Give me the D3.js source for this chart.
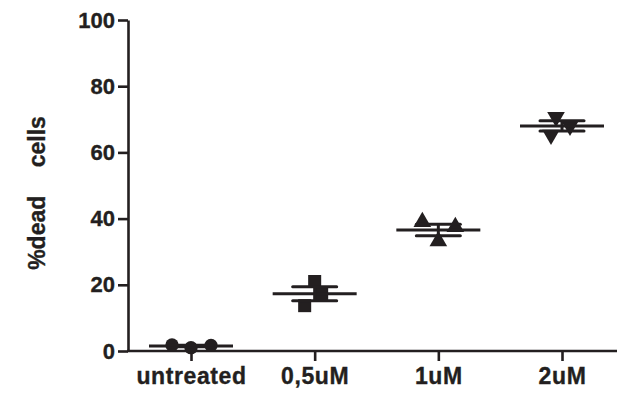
<!DOCTYPE html>
<html>
<head>
<meta charset="utf-8">
<script src="https://cdn.jsdelivr.net/npm/d3@7"></script>
<style>
  body { margin: 0; background: #fff; }
  text { font-family: "Liberation Sans", Arial, sans-serif; font-weight: bold; fill: #231f20; stroke: #231f20; stroke-width: 0.35px; }
</style>
</head>
<body>
<svg id="chart" width="621" height="398"></svg>
<script>
// data
const groups = ['untreated', '0,5uM', '1uM', '2uM'];
const untreated = [1.8, 1.0, 1.7];
const half_uM = [21.0, 13.7, 17.2];
const one_uM = [39.0, 33.2, 37.5];
const two_uM = [70.7, 65.3, 68.0];
const yTicks = [0, 20, 40, 60, 80, 100];

const series = [untreated, half_uM, one_uM, two_uM];
// horizontal spread of the replicate points (px)
const jitter = [[-19, 0, 20], [0, -10, 7], [-16, 0, 17], [-6, -11, 8]];

const ink = '#231f20';
const svg = d3.select('#chart');

const y = d3.scaleLinear().domain([0, 100]).range([351, 20]);
const x = d3.scalePoint().domain(groups).range([191, 562]);

// y axis
const yAxis = svg.append('g')
  .attr('transform', 'translate(128,0)')
  .call(d3.axisLeft(y).tickValues(yTicks).tickSize(10).tickSizeOuter(0).tickPadding(3));
yAxis.selectAll('path, line').attr('stroke', ink).attr('stroke-width', 2.6);
yAxis.selectAll('text').style('font-size', '22px').attr('fill', ink);

// x axis
const xAxis = svg.append('g')
  .attr('transform', 'translate(0,351)')
  .call(d3.axisBottom(x).tickSize(10).tickSizeOuter(0).tickPadding(7));
xAxis.select('.domain').remove();
xAxis.append('line')
  .attr('x1', 127).attr('x2', 617)
  .attr('stroke', ink).attr('stroke-width', 2.6);
xAxis.selectAll('line').attr('stroke', ink).attr('stroke-width', 2.6);
xAxis.selectAll('text')
  .style('font-size', '23px')
  .style('letter-spacing', '0.6px')
  .attr('fill', ink);

// y label
svg.append('text')
  .attr('transform', 'translate(45,193) rotate(-90)')
  .attr('text-anchor', 'middle')
  .style('font-size', '23px')
  .style('word-spacing', '22px')
  .text('%dead cells');

const symbols = [
  d3.symbol().type(d3.symbolCircle).size(140),
  d3.symbol().type(d3.symbolSquare).size(170),
  d3.symbol().type(d3.symbolTriangle).size(135),
  d3.symbol().type(d3.symbolTriangle).size(135)
];

series.forEach((vals, i) => {
  const cx = x(groups[i]);
  const m = d3.mean(vals);
  const sem = d3.deviation(vals) / Math.sqrt(vals.length);
  const g = svg.append('g');

  // points
  g.selectAll('path.pt')
    .data(vals)
    .join('path')
    .attr('class', 'pt')
    .attr('d', symbols[i])
    .attr('fill', ink)
    .attr('transform', (d, j) => `translate(${cx + jitter[i][j]},${y(d)})` + (i === 3 ? ' rotate(180)' : ''));

  // mean line
  g.append('line')
    .attr('x1', cx - 42).attr('x2', cx + 42)
    .attr('y1', y(m)).attr('y2', y(m))
    .attr('stroke', ink).attr('stroke-width', 3);

  // sem bars
  g.append('line')
    .attr('x1', cx).attr('x2', cx)
    .attr('y1', y(m - sem)).attr('y2', y(m + sem))
    .attr('stroke', ink).attr('stroke-width', 3);
  [m - sem, m + sem].forEach(v => {
    g.append('line')
      .attr('x1', cx - 22).attr('x2', cx + 22)
      .attr('y1', y(v)).attr('y2', y(v))
      .attr('stroke', ink).attr('stroke-width', 3)
      .attr('stroke-linecap', 'round');
  });
});
</script>
</body>
</html>
